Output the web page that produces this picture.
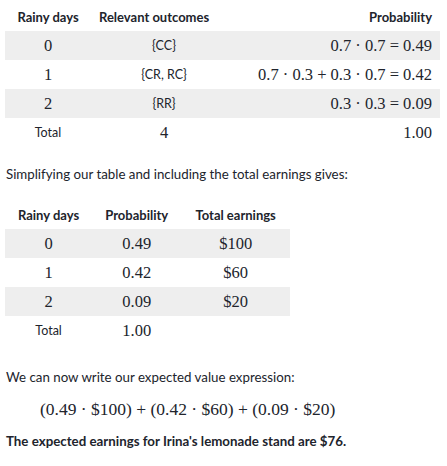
<!DOCTYPE html>
<html><head><meta charset="utf-8">
<script src="https://cdn.jsdelivr.net/npm/chart.js@4/dist/chart.umd.min.js"></script>
<style>
body{margin:0;width:447px;height:466px;font-family:Lato,sans-serif;color:#21242c;font-size:13.3px;position:relative;overflow:hidden;background:#fff}
table{border-collapse:collapse;position:absolute;left:5px}
th{font-weight:bold;font-size:13px;height:29px;padding:0 8px}
td{height:29px;padding:0 8px}
tr.g td{background:#eeeeee}
.m{font-family:"Liberation Serif",serif;font-size:16.5px}
.s{font-size:12.5px}
.p{position:absolute;left:6px;margin:0}
</style></head><body>
<table id="t1" style="top:2px;width:435px"></table>
<p class="p" style="top:166px">Simplifying our table and including the total earnings gives:</p>
<table id="t2" style="top:200px;width:285px"></table>
<p class="p" style="top:369px">We can now write our expected value expression:</p>
<p class="p m" style="top:399px;left:40px;font-size:17.5px">(0.49 · $100) + (0.42 · $60) + (0.09 · $20)</p>
<p class="p" style="top:433px;font-weight:bold">The expected earnings for Irina's lemonade stand are $76.</p>
<script>
const rainyDays = ["0", "1", "2"];
const outcomes = ["{CC}", "{CR, RC}", "{RR}"];
const probExpr = ["0.7 · 0.7 = 0.49", "0.7 · 0.3 + 0.3 · 0.7 = 0.42", "0.3 · 0.3 = 0.09"];
const probs = ["0.49", "0.42", "0.09"];
const earnings = ["$100", "$60", "$20"];
const totalOutcomes = "4";
const totalProb = "1.00";

let h = '<tr><th style="text-align:center;width:70px">Rainy days</th><th style="text-align:left">Relevant outcomes</th><th style="text-align:right">Probability</th></tr>';
rainyDays.forEach((d, i) => {
  h += `<tr class="${i % 2 ? '' : 'g'}"><td class="m" style="text-align:center">${d}</td><td class="s" style="text-align:center;width:130px">${outcomes[i]}</td><td class="m" style="text-align:right">${probExpr[i]}</td></tr>`;
});
h += `<tr><td class="s" style="text-align:center">Total</td><td class="m" style="text-align:center">${totalOutcomes}</td><td class="m" style="text-align:right">${totalProb}</td></tr>`;
document.getElementById("t1").innerHTML = h;

let h2 = '<tr><th>Rainy days</th><th>Probability</th><th>Total earnings</th></tr>';
rainyDays.forEach((d, i) => {
  h2 += `<tr class="${i % 2 ? '' : 'g'}"><td class="m" style="text-align:center">${d}</td><td class="m" style="text-align:center">${probs[i]}</td><td class="m" style="text-align:center">${earnings[i]}</td></tr>`;
});
h2 += `<tr><td class="s" style="text-align:center">Total</td><td class="m" style="text-align:center">${totalProb}</td><td></td></tr>`;
document.getElementById("t2").innerHTML = h2;
</script>
</body></html>
